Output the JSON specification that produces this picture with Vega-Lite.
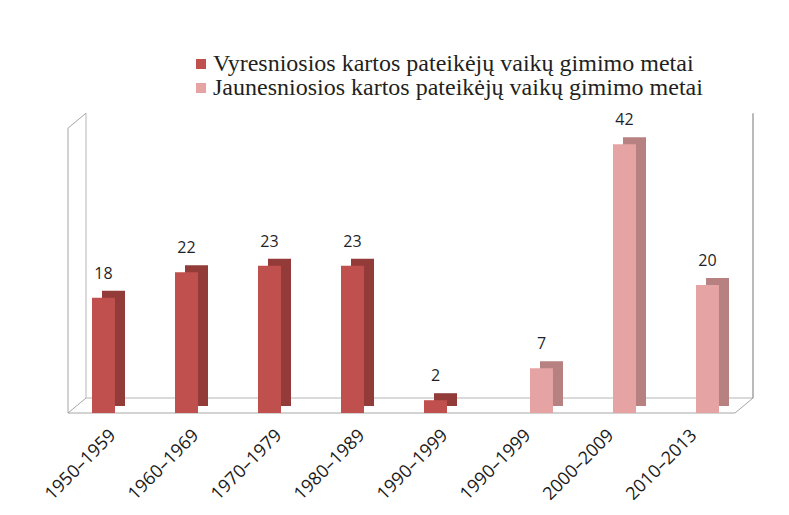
{
  "$schema": "https://vega.github.io/schema/vega-lite/v6.json",
  "width": 667,
  "height": 288,
  "autosize": {"type": "none"},
  "padding": {"left": 68, "top": 125, "right": 54, "bottom": 102},
  "background": "white",
  "config": {"view": {"stroke": null}, "font": "Open Sans", "legend": {"labelFont": "Liberation Serif, DejaVu Serif, serif"}},
  "datasets": {
    "bars": [
      {"key": "1950–1959|V", "series": "Vyresniosios kartos pateikėjų vaikų gimimo metai", "value": 18},
      {"key": "1960–1969|V", "series": "Vyresniosios kartos pateikėjų vaikų gimimo metai", "value": 22},
      {"key": "1970–1979|V", "series": "Vyresniosios kartos pateikėjų vaikų gimimo metai", "value": 23},
      {"key": "1980–1989|V", "series": "Vyresniosios kartos pateikėjų vaikų gimimo metai", "value": 23},
      {"key": "1990–1999|V", "series": "Vyresniosios kartos pateikėjų vaikų gimimo metai", "value": 2},
      {"key": "1990–1999|J", "series": "Jaunesniosios kartos pateikėjų vaikų gimimo metai", "value": 7},
      {"key": "2000–2009|J", "series": "Jaunesniosios kartos pateikėjų vaikų gimimo metai", "value": 42},
      {"key": "2010–2013|J", "series": "Jaunesniosios kartos pateikėjų vaikų gimimo metai", "value": 20}
    ],
    "one": [{"id": 1}]
  },
  "data": {"name": "bars"},
  "layer": [
    {
      "data": {"name": "one"},
      "mark": {"type": "rule", "color": "#a6a6a6", "strokeWidth": 1},
      "encoding": {
        "x": {"datum": 0, "type": "quantitative", "scale": {"domain": [0, 1]}, "axis": null},
        "y": {"datum": 0, "type": "quantitative", "scale": {"domain": [0, 45]}, "axis": null},
        "y2": {"datum": 44.5}
      }
    },
    {
      "data": {"name": "one"},
      "mark": {"type": "rule", "color": "#a6a6a6", "strokeWidth": 1},
      "encoding": {
        "x": {"datum": 0, "type": "quantitative", "scale": {"domain": [0, 1]}, "axis": null},
        "x2": {"datum": 1},
        "y": {"datum": 0, "type": "quantitative", "scale": {"domain": [0, 45]}, "axis": null}
      }
    },
    {
      "data": {"name": "one"},
      "mark": {"type": "rule", "color": "#b5b5b5", "strokeWidth": 1, "xOffset": 18, "x2Offset": 18, "yOffset": -15},
      "encoding": {
        "x": {"datum": 0, "type": "quantitative", "scale": {"domain": [0, 1]}, "axis": null},
        "x2": {"datum": 1},
        "y": {"datum": 0, "type": "quantitative", "scale": {"domain": [0, 45]}, "axis": null}
      }
    },
    {
      "data": {"name": "one"},
      "mark": {"type": "rule", "color": "#b5b5b5", "strokeWidth": 1, "xOffset": 18, "yOffset": -15, "y2Offset": -15},
      "encoding": {
        "x": {"datum": 0, "type": "quantitative", "scale": {"domain": [0, 1]}, "axis": null},
        "y": {"datum": 0, "type": "quantitative", "scale": {"domain": [0, 45]}, "axis": null},
        "y2": {"datum": 44.5}
      }
    },
    {
      "data": {"name": "one"},
      "mark": {"type": "rule", "color": "#8c8c8c", "strokeWidth": 1.2, "xOffset": 18, "yOffset": -15, "y2Offset": -15},
      "encoding": {
        "x": {"datum": 1, "type": "quantitative", "scale": {"domain": [0, 1]}, "axis": null},
        "y": {"datum": 0, "type": "quantitative", "scale": {"domain": [0, 45]}, "axis": null},
        "y2": {"datum": 44.5}
      }
    },
    {
      "data": {"name": "one"},
      "mark": {"type": "rule", "color": "#a6a6a6", "strokeWidth": 1, "x2Offset": 18, "y2Offset": -15},
      "encoding": {
        "x": {"datum": 0, "type": "quantitative", "scale": {"domain": [0, 1]}, "axis": null},
        "x2": {"datum": 0},
        "y": {"datum": 44.5, "type": "quantitative", "scale": {"domain": [0, 45]}, "axis": null},
        "y2": {"datum": 44.5}
      }
    },
    {
      "data": {"name": "one"},
      "mark": {"type": "rule", "color": "#a6a6a6", "strokeWidth": 1, "x2Offset": 18, "y2Offset": -15},
      "encoding": {
        "x": {"datum": 0, "type": "quantitative", "scale": {"domain": [0, 1]}, "axis": null},
        "x2": {"datum": 0},
        "y": {"datum": 0, "type": "quantitative", "scale": {"domain": [0, 45]}, "axis": null},
        "y2": {"datum": 0}
      }
    },
    {
      "data": {"name": "one"},
      "mark": {"type": "rule", "color": "#a6a6a6", "strokeWidth": 1, "x2Offset": 18, "y2Offset": -15},
      "encoding": {
        "x": {"datum": 1, "type": "quantitative", "scale": {"domain": [0, 1]}, "axis": null},
        "x2": {"datum": 1},
        "y": {"datum": 0, "type": "quantitative", "scale": {"domain": [0, 45]}, "axis": null},
        "y2": {"datum": 0}
      }
    },
    {
      "mark": {"type": "bar", "yOffset": -7, "y2Offset": -7},
      "encoding": {
        "x": {
          "field": "key", "type": "nominal", "sort": null,
          "scale": {"paddingInner": 0.446, "paddingOuter": 0.241, "align": 0.6},
          "axis": null
        },
        "xOffset": {
          "field": "series", "type": "nominal",
          "sort": ["Vyresniosios kartos pateikėjų vaikų gimimo metai", "Jaunesniosios kartos pateikėjų vaikų gimimo metai"],
          "scale": {"range": [10, 56]}
        },
        "y": {"field": "value", "type": "quantitative", "scale": {"domain": [0, 45]}, "axis": null},
        "fill": {
          "condition": {"test": "datum.series == 'Vyresniosios kartos pateikėjų vaikų gimimo metai'", "value": "#923b39"},
          "value": "#b78181"
        }
      }
    },
    {
      "mark": {"type": "bar"},
      "encoding": {
        "x": {
          "field": "key", "type": "nominal", "sort": null,
          "scale": {"paddingInner": 0.446, "paddingOuter": 0.241, "align": 0.6},
          "axis": {
            "title": null,
            "domain": false,
            "ticks": false,
            "labelAngle": -45,
            "labelFont": "Open Sans",
            "labelFontSize": 18,
            "labelColor": "#1a1a1a",
            "labelPadding": 13,
            "labelOffset": -8,
            "labelExpr": "slice(datum.label, 0, 9)"
          }
        },
        "xOffset": {"field": "series", "type": "nominal", "sort": ["Vyresniosios kartos pateikėjų vaikų gimimo metai", "Jaunesniosios kartos pateikėjų vaikų gimimo metai"]},
        "y": {"field": "value", "type": "quantitative", "scale": {"domain": [0, 45]}, "axis": null},
        "color": {
          "field": "series",
          "type": "nominal",
          "scale": {
            "domain": ["Vyresniosios kartos pateikėjų vaikų gimimo metai", "Jaunesniosios kartos pateikėjų vaikų gimimo metai"],
            "range": ["#c0504d", "#e6a3a3"]
          },
          "legend": {
            "orient": "none",
            "legendX": 121,
            "legendY": -73,
            "title": null,
            "symbolType": "square",
            "symbolSize": 100,
            "symbolStrokeWidth": 0,
            "labelFont": "Liberation Serif, DejaVu Serif, serif",
            "labelFontSize": 24,
            "labelColor": "#231f20",
            "labelLimit": 0,
            "labelOffset": 0,
            "rowPadding": 0
          }
        }
      }
    },
    {
      "mark": {"type": "text", "dy": -19, "baseline": "alphabetic", "align": "center", "font": "Open Sans", "fontSize": 16, "color": "#1f1f2a"},
      "encoding": {
        "x": {
          "field": "key", "type": "nominal", "sort": null,
          "scale": {"paddingInner": 0.446, "paddingOuter": 0.241, "align": 0.6},
          "axis": null
        },
        "xOffset": {"field": "series", "type": "nominal", "sort": ["Vyresniosios kartos pateikėjų vaikų gimimo metai", "Jaunesniosios kartos pateikėjų vaikų gimimo metai"]},
        "y": {"field": "value", "type": "quantitative", "scale": {"domain": [0, 45]}, "axis": null},
        "text": {"field": "value", "type": "quantitative"}
      }
    }
  ],
  "resolve": {"scale": {"x": "independent", "xOffset": "independent"}}
}
